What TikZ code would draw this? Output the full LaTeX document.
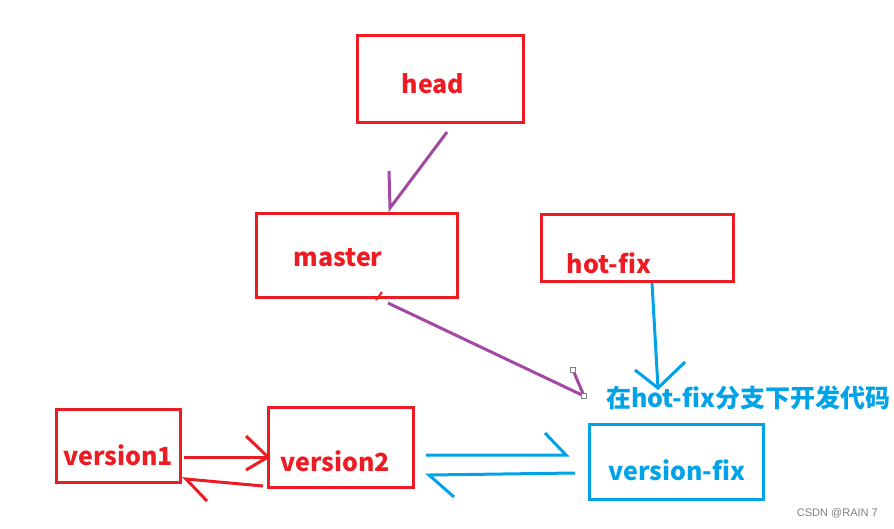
\documentclass[tikz,border=0pt]{standalone}
\usepackage{fontspec}
\setmainfont{Noto Sans CJK SC}
\newfontfamily\marksf{Liberation Sans}
\definecolor{paintred}{HTML}{ED1C24}
\definecolor{paintblue}{HTML}{00A2E8}
\definecolor{paintpurple}{HTML}{A349A4}
\tikzset{
  redbox/.style={draw=paintred, line width=3pt, inner sep=0pt},
  bluebox/.style={draw=paintblue, line width=3pt, inner sep=0pt},
  redtext/.style={text=paintred, font=\fontsize{25}{28}\selectfont\bfseries},
  bluetext/.style={text=paintblue, font=\fontsize{25}{28}\selectfont\bfseries},
  redline/.style={draw=paintred, line width=3pt},
  blueline/.style={draw=paintblue, line width=3pt},
  purpleline/.style={draw=paintpurple, line width=3pt},
  handle/.style={draw=gray, fill=white, line width=1pt, minimum size=5pt, inner sep=0pt}
}
\begin{document}
\begin{tikzpicture}[x=1pt, y=-1pt]
  \useasboundingbox (0,0) rectangle (894,528);
  % boxes
  \node[redbox, minimum width=166pt, minimum height=87pt] (head) at (440,78.5) {};
  \node[redbox, minimum width=201pt, minimum height=84pt] (master) at (356.5,255) {};
  \node[redbox, minimum width=192pt, minimum height=67pt] (hotfix) at (637,247.5) {};
  \node[redbox, minimum width=124pt, minimum height=73pt] (version1) at (118,445.5) {};
  \node[redbox, minimum width=145pt, minimum height=80pt] (version2) at (340.5,447) {};
  \node[bluebox, minimum width=174pt, minimum height=75pt] (versionfix) at (676,461.5) {};
  % texts
  \node[redtext] (headtext) at (433,84) {head};
  \node[redtext] (mastertext) at (338,258) {master};
  \node[redtext] (hotfixtext) at (609,263) {hot-fix};
  \node[redtext] (version1text) at (118,455) {version1};
  \node[redtext] (version2text) at (335,461) {version2};
  \node[bluetext] (versionfixtext) at (677,470) {version-fix};
  \node[bluetext, anchor=west, inner sep=0pt] (devnote) at (606,398) {在hot-fix分支下开发代码};
  \node[text=gray, font=\marksf\fontsize{11}{13}\selectfont, anchor=east, inner sep=0pt] (mark) at (878,513) {CSDN @RAIN 7};
  % connector ends
  \coordinate (headout) at (447,132);
  \coordinate (masterin) at (390,208);
  \coordinate (masterout) at (388,303);
  \coordinate (notein) at (584,396);
  \coordinate (hotfixout) at (652,283);
  \coordinate (hotfixtip) at (658,388);
  \coordinate (v1out) at (184,457);
  \coordinate (v2in) at (268,457);
  \coordinate (v2out) at (263,486);
  \coordinate (v1in) at (186,479);
  \coordinate (fixin) at (566,455);
  \coordinate (v2right) at (426,455);
  \coordinate (fixout) at (575,473);
  \coordinate (v2back) at (429,475);
  % connectors
  \draw[purpleline] (headout) -- (masterin) -- ++(-1,-37);
  \draw[purpleline] (masterout) -- (notein) -- ++(-11,-26);
  \node[handle] (h1) at (573,370) {};
  \node[handle] (h2) at (notein) {};
  \draw[paintred, line width=2pt] (376,300) -- (382,292);
  \draw[blueline] (hotfixout) -- (hotfixtip);
  \draw[blueline] (635,370) -- (hotfixtip) -- (685,362);
  \draw[redline] (v1out) -- (v2in);
  \draw[redline] (246,436) -- (v2in) -- (246,470);
  \draw[redline] (v2out) -- (v1in) -- ++(21,22);
  \draw[blueline] (v2right) -- (fixin) -- ++(-21,-22);
  \draw[blueline] (fixout) -- (v2back) -- ++(25,22);
\end{tikzpicture}
\end{document}
